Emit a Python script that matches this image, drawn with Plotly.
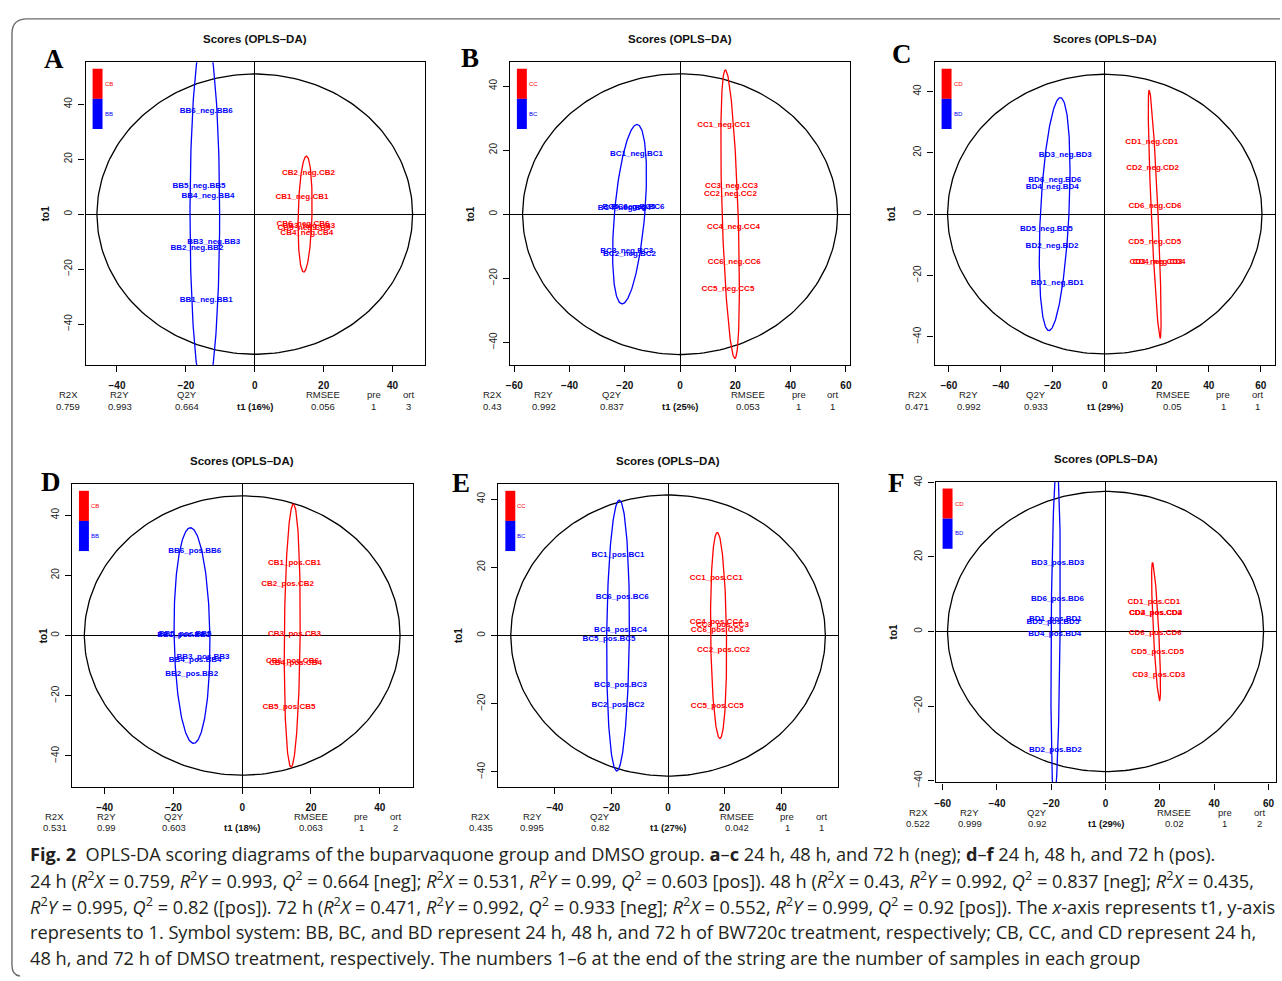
import numpy as np
import plotly.graph_objects as go

W, H = 1282, 981
RED, BLUE = "#FF0000", "#0000FF"

# ------------------------------------------------------------------ data
panels = ["A", "B", "C", "D", "E", "F"]
control_groups = ["CB", "CC", "CD", "CB", "CC", "CD"]
treated_groups = ["BB", "BC", "BD", "BB", "BC", "BD"]
ion_modes = ["neg", "neg", "neg", "pos", "pos", "pos"]
sample_ids = [1, 2, 3, 4, 5, 6]

# scores (t1, to1) for samples 1..6
A_treated_t1 = [-14.1, -16.8, -11.9, -13.6, -16.2, -14.1]
A_treated_to1 = [-31.4, -12.2, -10.3, 6.7, 10.4, 37.7]
A_control_t1 = [13.7, 15.6, 15.7, 15.1, 14.3, 14.0]
A_control_to1 = [6.4, 14.9, -4.4, -6.8, -5.1, -3.7]

B_treated_t1 = [-15.8, -18.3, -19.3, -20.2, -18.5, -15.2]
B_treated_to1 = [18.9, -12.4, -11.6, 2.0, 2.2, 2.1]
B_control_t1 = [15.8, 18.2, 18.6, 19.3, 17.3, 19.6]
B_control_to1 = [27.9, 6.4, 8.8, -3.9, -23.5, -14.8]

C_treated_t1 = [-18.3, -20.3, -15.2, -20.2, -22.5, -19.3]
C_treated_to1 = [-22.4, -10.5, 19.2, 8.7, -4.8, 11.0]
C_control_t1 = [18.1, 18.4, 19.7, 20.9, 19.2, 19.3]
C_control_to1 = [23.5, 14.9, -15.6, -15.6, -9.2, 2.6]

D_treated_t1 = [-17.0, -14.7, -11.4, -13.7, -16.6, -13.8]
D_treated_to1 = [0.3, -12.7, -7.3, -8.1, 0.4, 28.0]
D_control_t1 = [15.2, 13.2, 15.2, 15.5, 13.6, 14.6]
D_control_to1 = [24.0, 17.0, 0.6, -9.1, -23.6, -8.4]

E_treated_t1 = [-17.7, -17.7, -16.8, -16.8, -20.9, -16.2]
E_treated_to1 = [23.5, -20.4, -14.4, 1.7, -1.1, 11.4]
E_control_t1 = [17.0, 19.6, 19.2, 17.0, 17.4, 17.4]
E_control_to1 = [16.8, -4.3, 3.2, 3.9, -20.7, 1.6]

F_treated_t1 = [-18.5, -18.5, -17.6, -18.7, -19.4, -17.7]
F_treated_to1 = [3.4, -31.9, 18.3, -0.6, 2.5, 8.8]
F_control_t1 = [17.8, 18.4, 19.6, 18.5, 19.1, 18.3]
F_control_to1 = [7.8, 5.1, -11.8, 5.1, -5.6, -0.3]

# model statistics
R2X = [0.759, 0.43, 0.471, 0.531, 0.435, 0.522]
R2Y = [0.993, 0.992, 0.992, 0.99, 0.995, 0.999]
Q2Y = [0.664, 0.837, 0.933, 0.603, 0.82, 0.92]
RMSEE = [0.056, 0.053, 0.05, 0.063, 0.042, 0.02]
n_pre = [1, 1, 1, 1, 1, 1]
n_ort = [3, 1, 1, 2, 1, 2]
t1_pct = [16, 25, 29, 18, 27, 29]

# Hotelling T2 ellipse (semi-axes) and group ellipses (centre, rx, ry, tilt)
hotelling_rx = [45.8, 57.0, 60.5, 45.9, 55.6, 58.2]
hotelling_ry = [51.0, 43.8, 45.6, 46.4, 41.2, 37.6]
treated_ell_cx = [-14.5, -18.3, -19.3, -14.6, -17.7, -18.4]
treated_ell_rx = [4.3, 5.5, 5.5, 5.2, 4.0, 1.65]
treated_ell_ry = [66.0, 28.0, 38.0, 35.8, 39.7, 45.0]
treated_ell_tilt = [0.0, 2.7, 2.2, -0.45, 0.45, 0.5]
control_ell_cx = [14.6, 18.1, 19.2, 14.55, 17.85, 18.6]
control_ell_rx = [2.0, 2.9, 1.3, 2.3, 2.8, 1.0]
control_ell_ry = [21.1, 45.0, 40.4, 43.7, 30.2, 18.5]
control_ell_tilt = [0.4, -1.7, -2.1, 0.35, -0.45, -1.3]

# ------------------------------------------------------------------ layout (pixels)
boxes = [(82, 56, 423.3, 362.7), (508.3, 56, 850, 362.7), (935, 56, 1276.7, 362.7),
         (68.3, 483.3, 410.7, 789.3), (496.7, 483.3, 838.3, 789.3), (936, 481, 1278.3, 785)]
xranges = [(-49.1, 49.5), (-61.6, 61.5), (-65.5, 65.4), (-49.5, 49.6), (-60.0, 60.2), (-62.6, 62.9)]
yranges = [(-55.0, 55.24), (-47.15, 47.4), (-49.3, 49.5), (-50.2, 50.2), (-44.3, 44.3), (-40.5, 40.1)]
xticks_by_panel = [[-40, -20, 0, 20, 40], [-60, -40, -20, 0, 20, 40, 60], [-60, -40, -20, 0, 20, 40, 60],
                   [-40, -20, 0, 20, 40], [-40, -20, 0, 20, 40], [-60, -40, -20, 0, 20, 40, 60]]
yticks = [-40, -20, 0, 20, 40]
letter_xy = [(50, 53), (468, 52), (902, 48), (47, 481), (459, 482), (897, 482)]
ylab_x = [41.7, 469, 891.7, 40, 456.7, 893.3]

scores = {
    "A": (A_treated_t1, A_treated_to1, A_control_t1, A_control_to1),
    "B": (B_treated_t1, B_treated_to1, B_control_t1, B_control_to1),
    "C": (C_treated_t1, C_treated_to1, C_control_t1, C_control_to1),
    "D": (D_treated_t1, D_treated_to1, D_control_t1, D_control_to1),
    "E": (E_treated_t1, E_treated_to1, E_control_t1, E_control_to1),
    "F": (F_treated_t1, F_treated_to1, F_control_t1, F_control_to1),
}

SANS = "Liberation Sans, Arial, Helvetica, sans-serif"
SERIF = "Liberation Serif, Times New Roman, serif"


def px(x):
    return x / W


def py(y):
    return 1 - y / H


def ellipse(cx, rx, ry, tilt):
    t = np.linspace(0, 2 * np.pi, 240)
    return cx + rx * np.cos(t) + tilt * np.sin(t), ry * np.sin(t)


def bold_tick(v):
    return f"<b>{v}</b>".replace("-", "\u2212")


fig = go.Figure()
annotations = []
shapes = []

for i, p in enumerate(panels):
    suf = "" if i == 0 else str(i + 1)
    xa, ya = "x" + suf, "y" + suf
    x0, y0, x1, y1 = boxes[i]
    tt1, tto1, ct1, cto1 = scores[p]

    ex, ey = ellipse(0, hotelling_rx[i], hotelling_ry[i], 0)
    fig.add_trace(go.Scatter(x=ex, y=ey, mode="lines", line=dict(color="black", width=1.3),
                             xaxis=xa, yaxis=ya, hoverinfo="skip", showlegend=False))
    ex, ey = ellipse(treated_ell_cx[i], treated_ell_rx[i], treated_ell_ry[i], treated_ell_tilt[i])
    fig.add_trace(go.Scatter(x=ex, y=ey, mode="lines", line=dict(color=BLUE, width=1.3),
                             xaxis=xa, yaxis=ya, hoverinfo="skip", showlegend=False))
    ex, ey = ellipse(control_ell_cx[i], control_ell_rx[i], control_ell_ry[i], control_ell_tilt[i])
    fig.add_trace(go.Scatter(x=ex, y=ey, mode="lines", line=dict(color=RED, width=1.3),
                             xaxis=xa, yaxis=ya, hoverinfo="skip", showlegend=False))

    tg, cg, m = treated_groups[i], control_groups[i], ion_modes[i]
    fig.add_trace(go.Scatter(
        x=tt1, y=tto1, mode="text",
        text=[f"<b>{tg}{k}_{m}.{tg}{k}</b>" for k in sample_ids],
        textposition="middle center",
        textfont=dict(family=SANS, size=8, color=BLUE),
        xaxis=xa, yaxis=ya, showlegend=False, hoverinfo="skip"))
    fig.add_trace(go.Scatter(
        x=ct1, y=cto1, mode="text",
        text=[f"<b>{cg}{k}_{m}.{cg}{k}</b>" for k in sample_ids],
        textposition="middle center",
        textfont=dict(family=SANS, size=8, color=RED),
        xaxis=xa, yaxis=ya, showlegend=False, hoverinfo="skip"))

    common = dict(showline=True, mirror=True, linecolor="black", linewidth=1.3,
                  showgrid=False, zeroline=True, zerolinecolor="black", zerolinewidth=1.2,
                  ticks="outside", ticklen=6, tickwidth=1, tickcolor="black")
    fig.layout["xaxis" + suf] = dict(
        domain=[px(x0), px(x1)], range=list(xranges[i]), anchor=ya,
        tickmode="array", tickvals=xticks_by_panel[i],
        ticktext=[bold_tick(v) for v in xticks_by_panel[i]],
        tickfont=dict(family=SANS, size=10, color="#111"),
        ticklabelstandoff=5, **common)
    fig.layout["yaxis" + suf] = dict(
        domain=[py(y1), py(y0)], range=list(yranges[i]), anchor=xa,
        tickmode="array", tickvals=yticks, tickangle=-90,
        tickfont=dict(family=SANS, size=10, color="#222"),
        ticklabelstandoff=2, **common)

    shapes.append(dict(type="rect", xref="paper", yref="paper",
                       x0=px(x0 + 7), x1=px(x0 + 17), y0=py(y0 + 37), y1=py(y0 + 6.5),
                       fillcolor=RED, line=dict(width=0)))
    shapes.append(dict(type="rect", xref="paper", yref="paper",
                       x0=px(x0 + 7), x1=px(x0 + 17), y0=py(y0 + 67.5), y1=py(y0 + 37),
                       fillcolor=BLUE, line=dict(width=0)))
    annotations.append(dict(x=px(x0 + 17), y=py(y0 + 22), text=cg, showarrow=False,
                            xanchor="left", yanchor="middle", xref="paper", yref="paper",
                            font=dict(family=SANS, size=6, color=RED)))
    annotations.append(dict(x=px(x0 + 17), y=py(y0 + 52), text=tg, showarrow=False,
                            xanchor="left", yanchor="middle", xref="paper", yref="paper",
                            font=dict(family=SANS, size=6, color=BLUE)))

    cxm = (x0 + x1) / 2
    annotations.append(dict(x=px(cxm), y=py(y0 - 23.5), text="<b>Scores (OPLS\u2013DA)</b>", showarrow=False,
                            xref="paper", yref="paper", xanchor="center", yanchor="middle",
                            font=dict(family=SANS, size=11.5, color="#111")))
    lx, ly = letter_xy[i]
    annotations.append(dict(x=px(lx), y=py(ly), text=f"<b>{p}</b>", showarrow=False,
                            xref="paper", yref="paper", xanchor="center", yanchor="middle",
                            font=dict(family=SERIF, size=27, color="black")))
    annotations.append(dict(x=px(ylab_x[i]), y=py((y0 + y1) / 2), text="<b>to1</b>", showarrow=False,
                            xref="paper", yref="paper", textangle=-90, xanchor="center", yanchor="middle",
                            font=dict(family=SANS, size=10, color="#111")))

    cols = [(x0 - 17.5, "R2X", R2X[i]), (x0 + 34.2, "R2Y", R2Y[i]), (x0 + 102.2, "Q2Y", Q2Y[i]),
            (x1 - 102.3, "RMSEE", RMSEE[i]), (x1 - 51.6, "pre", n_pre[i]), (x1 - 17.3, "ort", n_ort[i])]
    for cx, lab, val in cols:
        annotations.append(dict(x=px(cx), y=py(y1 + 30), text=lab, showarrow=False,
                                xref="paper", yref="paper", xanchor="center", yanchor="middle",
                                font=dict(family=SANS, size=9.5, color="#222")))
        annotations.append(dict(x=px(cx), y=py(y1 + 41.7), text=str(val), showarrow=False,
                                xref="paper", yref="paper", xanchor="center", yanchor="middle",
                                font=dict(family=SANS, size=9.5, color="#222")))
    annotations.append(dict(x=px(cxm), y=py(y1 + 41.7), text=f"<b>t1 ({t1_pct[i]}%)</b>", showarrow=False,
                            xref="paper", yref="paper", xanchor="center", yanchor="middle",
                            font=dict(family=SANS, size=9.5, color="#111")))

# ------------------------------------------------------------------ caption
EQ = " = "


def R2(s):
    return f"<i>R</i><sup>2</sup><i>{s}</i>"


Q2 = "<i>Q</i><sup>2</sup>"
caption_lines = [
    "<b>Fig. 2</b>  OPLS-DA scoring diagrams of the buparvaquone group and DMSO group. "
    "<b>a</b>–<b>c</b> 24 h, 48 h, and 72 h (neg); <b>d</b>–<b>f</b> 24 h, 48 h, and 72 h (pos).",
    f"24 h ({R2('X')}{EQ}0.759, {R2('Y')}{EQ}0.993, {Q2}{EQ}0.664 [neg]; {R2('X')}{EQ}0.531, "
    f"{R2('Y')}{EQ}0.99, {Q2}{EQ}0.603 [pos]). 48 h ({R2('X')}{EQ}0.43, {R2('Y')}{EQ}0.992, "
    f"{Q2}{EQ}0.837 [neg]; {R2('X')}{EQ}0.435,",
    f"{R2('Y')}{EQ}0.995, {Q2}{EQ}0.82 ([pos]). 72 h ({R2('X')}{EQ}0.471, {R2('Y')}{EQ}0.992, "
    f"{Q2}{EQ}0.933 [neg]; {R2('X')}{EQ}0.552, {R2('Y')}{EQ}0.999, {Q2}{EQ}0.92 [pos]). "
    "The <i>x</i>-axis represents t1, y-axis",
    "represents to 1. Symbol system: BB, BC, and BD represent 24 h, 48 h, and 72 h of BW720c "
    "treatment, respectively; CB, CC, and CD represent 24 h,",
    "48 h, and 72 h of DMSO treatment, respectively. The numbers 1–6 at the end of the string "
    "are the number of samples in each group",
]
caption_y = [857, 883, 910, 936, 963]
for line, yy in zip(caption_lines, caption_y):
    annotations.append(dict(x=px(24), y=py(yy), text=line, showarrow=False, xref="paper", yref="paper",
                            xanchor="left", yanchor="middle",
                            font=dict(family="Open Sans, Lato, sans-serif", size=18.2, color="#231f20")))

# frame around the figure
shapes.append(dict(type="path", xref="paper", yref="paper",
                   path=(f"M {px(1282)},{py(12)} L {px(23)},{py(12)} Q {px(8)},{py(12)} {px(8)},{py(27)} "
                         f"L {px(8)},{py(970)} Q {px(8)},{py(980)} {px(16)},{py(981)}"),
                   line=dict(color="#6b6b6b", width=1.4)))

fig.update_layout(width=W, height=H, margin=dict(l=0, r=0, t=0, b=0),
                  paper_bgcolor="white", plot_bgcolor="white",
                  annotations=annotations, shapes=shapes, showlegend=False)

fig.write_html("out.html", config={"displayModeBar": False},
               post_script="document.body.style.margin='0';document.body.style.overflow='hidden';")
